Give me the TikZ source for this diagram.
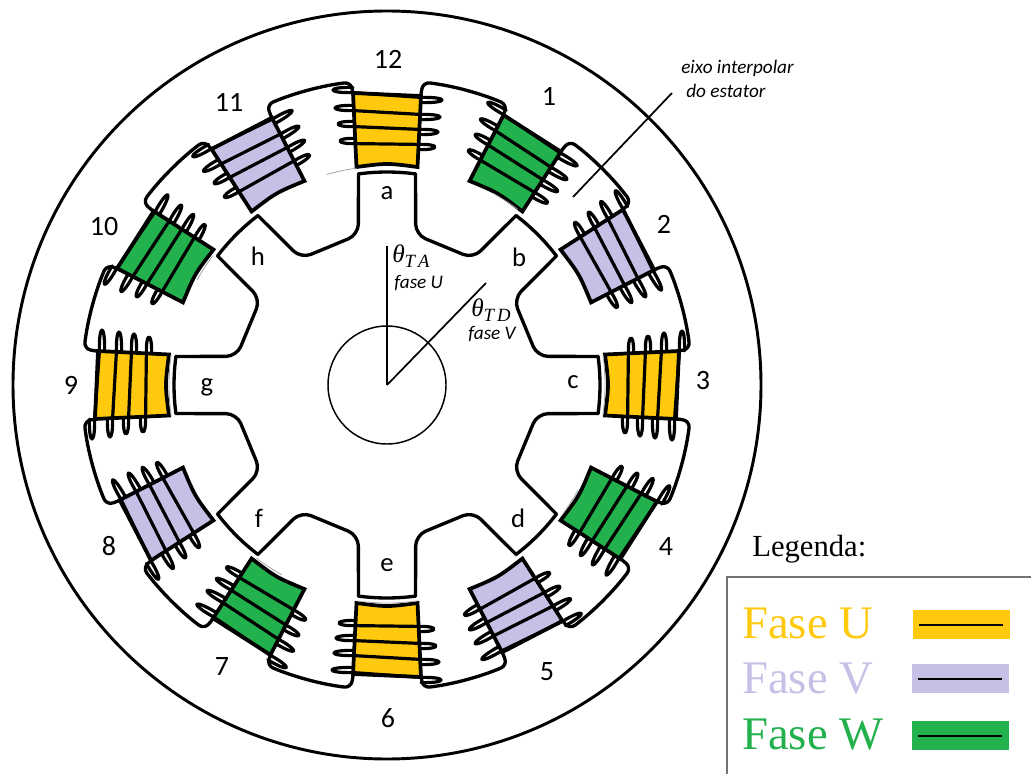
\documentclass[tikz,border=0pt]{standalone}
\usepackage{fontspec}
\setmainfont{Carlito}
\newfontfamily\legendfont{Liberation Serif}
\definecolor{faseU}{HTML}{FFC90E}
\definecolor{faseV}{HTML}{C8BFE7}
\definecolor{faseW}{HTML}{22B14C}
\tikzset{
  radial/.style={x=.75pt,y=.75pt,shift={(290.25pt,-288.75pt)},rotate=#1},
  wire/.style={draw=black,line width=2.4pt,line cap=round,line join=round},
  iron/.style={draw=black,line width=2.5pt,line cap=round,line join=round},
  seam/.style={draw=black!35,line width=.6pt},
  numlabel/.style={font=\fontsize{21}{25}\selectfont,inner sep=0pt},
  letterlabel/.style={font=\fontsize{20}{24}\selectfont,inner sep=0pt},
  smallnote/.style={font=\itshape\fontsize{14.4}{17}\selectfont,inner sep=0pt,anchor=base west},
  thetanote/.style={font=\legendfont\itshape\fontsize{19}{22}\selectfont,inner sep=0pt,anchor=base west},
  legendtext/.style={font=\legendfont\fontsize{35}{40}\selectfont,inner sep=0pt,anchor=base west},
}
\newcommand{\subsc}[1]{\raisebox{-4pt}{\fontsize{14}{16}\selectfont #1}}
\newcommand{\coilat}[2]{%
  \begin{scope}[radial=#1]
    \path[fill=#2,draw=black,line width=2.8pt,line join=miter]
      (-34,292) -- (34,289) -- (30.5,218) .. controls (0,222) .. (-30.5,218) -- cycle;
    \foreach \rl/\tl/\rr/\tr in {295/54/285/55,277/52/268/53,261/49/253/51,244/47/238/48}{
      \pgfmathsetmacro{\xl}{30.5+0.048*(\rl-218)}
      \pgfmathsetmacro{\xr}{30.5+0.048*(\rr-218)}
      \pgfmathsetmacro{\cl}{\xl+(\tl-\xl)/0.75}
      \pgfmathsetmacro{\cr}{\xr+(\tr-\xr)/0.75}
      \draw[wire] (-\xl,\rl+2.6) .. controls (-\cl,\rl+3.2) and (-\cl,\rl-3.2) .. (-\xl,\rl-2.6)
        -- (\xr,\rr+2.6) .. controls (\cr,\rr+3.2) and (\cr,\rr-3.2) .. (\xr,\rr-2.6);
    }
    % stator cap towards the next coil
    \draw[iron,rounded corners=5pt] (83.34:293) -- (83.2:305)
      arc[start angle=83.2,end angle=66.8,radius=305] -- (66.66:293);
  \end{scope}}
\newcommand{\poleat}[1]{%
  \begin{scope}[radial=#1]
    \draw[iron] (82.3:213) arc[start angle=82.3,end angle=97.7,radius=213];
    \draw[iron,rounded corners=8pt] (82.3:213) -- (79.2:153) -- (55.8:153) -- (52.7:213);
  \end{scope}}
\begin{document}
\begin{tikzpicture}[x=.75pt,y=-.75pt]
  \useasboundingbox (0,0) rectangle (1031,774);
  \fill[white] (0,0) rectangle (1031,774);
  \coordinate (hub) at (387,385);
  \draw[black,line width=2.2pt] (hub) ++(-374,0) arc[start angle=180,delta angle=360,radius=374];
  \node[circle,draw=black,line width=1.1pt,minimum size=88.5pt,inner sep=0pt] (shaft) at (hub) {};
  % coils, numbered clockwise from the top
  \coilat{0}{faseU}
  \coilat{-30}{faseW}
  \coilat{-60}{faseV}
  \coilat{-90}{faseU}
  \coilat{-120}{faseW}
  \coilat{-150}{faseV}
  \coilat{-180}{faseU}
  \coilat{-210}{faseW}
  \coilat{-240}{faseV}
  \coilat{-270}{faseU}
  \coilat{-300}{faseW}
  \coilat{-330}{faseV}
  % rotor poles
  \foreach \k in {0,...,7}{\poleat{-45*\k}}
  % faint seams
  \begin{scope}[radial=0]
    \draw[seam] (106:219) arc[start angle=106,end angle=98,radius=219];
    \draw[seam] (61:219) arc[start angle=61,end angle=53.4,radius=219];
    \draw[seam] (-29:218) arc[start angle=-29,end angle=-36,radius=218];
    \draw[seam] (151:217) arc[start angle=151,end angle=143.5,radius=217];
    \draw[seam] (-119:217) arc[start angle=-119,end angle=-127,radius=217];
    \draw[seam] (-8:218) arc[start angle=-8,end angle=8,radius=218];
    \draw[seam] (172:218) arc[start angle=172,end angle=188,radius=218];
    \draw[seam] (262:218) arc[start angle=262,end angle=278,radius=218];
  \end{scope}
  % angle lines
  \coordinate (ta) at (387,246);
  \coordinate (td) at (486,283);
  \draw[black,line width=1.3pt] (hub) -- (ta);
  \draw[black,line width=1.3pt] (hub) -- (td);
  \coordinate (leadA) at (573,197);
  \coordinate (leadB) at (672,93);
  \draw[black,line width=1.3pt] (leadA) -- (leadB);
  % numbers
  \node[numlabel] (n12) at (388,59) {12};
  \node[numlabel] (n1) at (549,96) {1};
  \node[numlabel] (n2) at (664,224) {2};
  \node[numlabel] (n3) at (703,381) {3};
  \node[numlabel] (n4) at (666,547) {4};
  \node[numlabel] (n5) at (547,672) {5};
  \node[numlabel] (n6) at (388,718) {6};
  \node[numlabel] (n7) at (222,667) {7};
  \node[numlabel] (n8) at (109,546) {8};
  \node[numlabel] (n9) at (71,385) {9};
  \node[numlabel] (n10) at (104,227) {10};
  \node[numlabel] (n11) at (229,102) {11};
  % pole letters
  \node[letterlabel] (la) at (387,193) {a};
  \node[letterlabel] (lb) at (519,257) {b};
  \node[letterlabel] (lc) at (573,382) {c};
  \node[letterlabel] (ld) at (518,518) {d};
  \node[letterlabel] (le) at (387,565) {e};
  \node[letterlabel] (lf) at (259,518) {f};
  \node[letterlabel] (lg) at (207,387) {g};
  \node[letterlabel] (lh) at (258,256) {h};
  % annotations
  \node[thetanote] (thA) at (392,262) {θ\subsc{T\,A}};
  \node[smallnote] (fU) at (394,288) {fase U};
  \node[thetanote] (thD) at (471,316) {θ\subsc{T\,D}};
  \node[smallnote] (fV) at (468,339) {fase V};
  \node[smallnote] (e1) at (681,74) {eixo interpolar};
  \node[smallnote] (e2) at (686,98) {do estator};
  % legend
  \node[inner sep=0pt,anchor=base west,font=\legendfont\fontsize{23}{28}\selectfont] (lg0) at (752,556) {Legenda:};
  \draw[black!55,line width=1.1pt] (727,774) -- (727,577) -- (1031,577);
  \node[legendtext,text=faseU] (lU) at (742,638) {Fase U};
  \node[legendtext,text=faseV] (lV) at (742,693) {Fase V};
  \node[legendtext,text=faseW] (lW) at (742,749) {Fase W};
  \fill[faseU] (913,610) rectangle (1010,639);
  \fill[faseV] (912,664) rectangle (1009,693);
  \fill[faseW] (912,721) rectangle (1009,750);
  \draw[black,line width=1.8pt] (919,625) -- (1003,625);
  \draw[black,line width=1.8pt] (918,679) -- (1002,679);
  \draw[black,line width=1.8pt] (918,736) -- (1002,736);
\end{tikzpicture}
\end{document}
